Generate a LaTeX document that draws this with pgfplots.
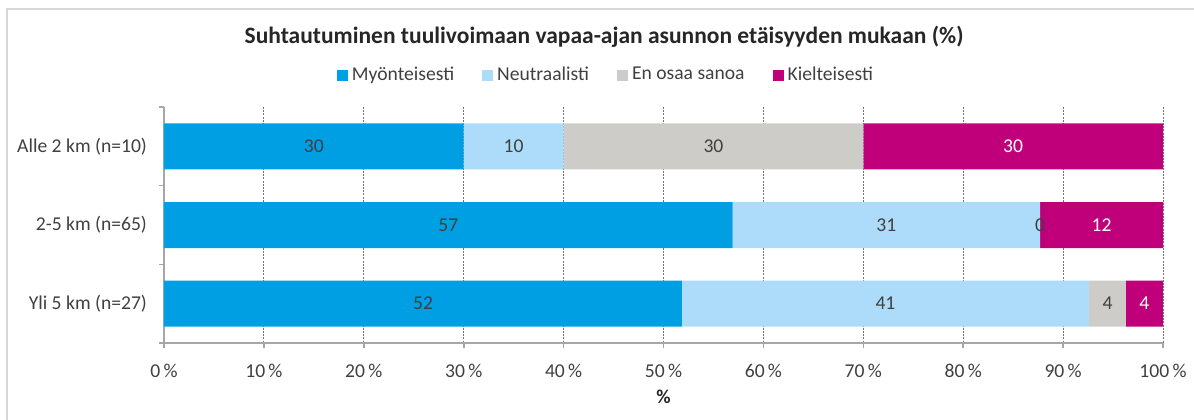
\documentclass[border=0pt]{standalone}
\usepackage{pgfplots}
\pgfplotsset{compat=1.18}
\usepackage{pgfplotstable}
\usepackage{fontspec}
\setmainfont{Carlito}
\definecolor{cBlue}{HTML}{009FE3}
\definecolor{cLight}{HTML}{ADDCFA}
\definecolor{cGray}{HTML}{CDCCC8}
\definecolor{cMag}{HTML}{C0007A}
\definecolor{cText}{HTML}{404040}
\definecolor{cAxis}{HTML}{A6A6A6}

\pgfplotsset{
  sqleg/.style={legend image code/.code={\fill[##1] (0pt,-2.75pt) rectangle (5.5pt,2.75pt);}},
  geom/.style={at={(82pt,38pt)}, anchor=south west,
    scale only axis, width=499.5pt, height=118pt,
    xmin=0, xmax=100, ymin=-0.5, ymax=2.5, y dir=reverse,
    /pgf/number format/assume math mode=true},
  lbl/.style={only marks, mark=none, point meta=explicit,
    nodes near coords={\pgfmathprintnumber[fixed,precision=0,assume math mode=true]{\pgfplotspointmeta}},
    nodes near coords style={anchor=center, font=\fontsize{9.8}{11}\selectfont, text=#1}},
}

% y: 0 = Alle 2 km, 1 = 2-5 km, 2 = Yli 5 km
% a = Myönteisesti, b = Neutraalisti, c = En osaa sanoa, d = Kielteisesti (%)
\pgfplotstableread{
y a b c d
0 30 10 30 30
1 56.92 30.77 0 12.31
2 51.85 40.74 3.70 3.70
}\tData

\begin{document}
\begin{tikzpicture}[font=\fontsize{9.8}{11}\selectfont]
\path[use as bounding box] (0,0) rectangle (597pt,209.5pt);
\draw[cAxis!45, line width=1pt] (3.5pt,-2pt) -- (3.5pt,205pt) -- (600pt,205pt);
\node[font=\fontsize{11.75}{14}\selectfont\bfseries, text=black!85] at (302pt,191pt) {Suhtautuminen tuulivoimaan vapaa-ajan asunnon etäisyyden mukaan (\%)};
\begin{axis}[
  geom,
  xbar stacked, bar width=23pt,
  xtick={0,10,...,100},
  xticklabel={\pgfmathprintnumber{\tick}\,\%},
  ytick={0,1,2},
  yticklabels={Alle 2 km (n=10), 2-5 km (n=65), Yli 5 km (n=27)},
  minor ytick={-0.5,0.5,1.5,2.5},
  axis x line*=bottom, axis y line*=left,
  axis line style={cAxis, line width=0.8pt, -},
  tick align=outside,
  major tick length=2.5pt, minor tick length=2.5pt,
  tick style={cAxis, line width=0.8pt},
  every major y tick/.append style={draw=none},
  xmajorgrids,
  major x grid style={dash pattern=on 1pt off 0.6pt, black!55, line width=0.5pt},
  tick label style={font=\fontsize{9.8}{11}\selectfont, text=cText},
  xticklabel style={yshift=-4.5pt},
  yticklabel style={xshift=-2.5pt},
  xlabel={\textbf{\%}},
  xlabel style={at={(axis description cs:0.5,-0.2288)}, anchor=center, text=black!85, font=\fontsize{9.8}{11}\selectfont},
  legend style={at={(0.4434,1.1356)}, anchor=center, draw=none, fill=none,
    legend columns=-1, font=\fontsize{9.8}{11}\selectfont, text=cText,
    /tikz/every even column/.append style={column sep=12pt}},
]
\addplot[fill=cBlue, draw=none, sqleg] table[x=a, y=y] {\tData};
\addplot[fill=cLight, draw=none, sqleg] table[x=b, y=y] {\tData};
\addplot[fill=cGray, draw=none, sqleg] table[x=c, y=y] {\tData};
\addplot[fill=cMag, draw=none, sqleg] table[x=d, y=y] {\tData};
\legend{Myönteisesti, Neutraalisti, En osaa sanoa, Kielteisesti}
\end{axis}
\begin{axis}[geom, hide axis]
\addplot[lbl=cText] table[x expr={\thisrow{a}/2}, y=y, meta=a] {\tData};
\addplot[lbl=cText] table[x expr={\thisrow{a}+\thisrow{b}/2}, y=y, meta=b] {\tData};
\addplot[lbl=cText] table[x expr={\thisrow{a}+\thisrow{b}+\thisrow{c}/2}, y=y, meta=c] {\tData};
\addplot[lbl=white] table[x expr={\thisrow{a}+\thisrow{b}+\thisrow{c}+\thisrow{d}/2}, y=y, meta=d] {\tData};
\end{axis}
\end{tikzpicture}
\end{document}
